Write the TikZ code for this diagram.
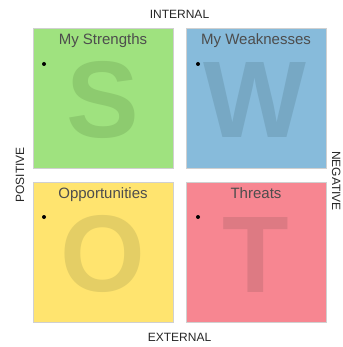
\documentclass[tikz,border=0pt]{standalone}
\usepackage{fontspec}
\setmainfont{Liberation Sans}
\definecolor{sgreen}{HTML}{9FE27F}
\definecolor{sgreenL}{HTML}{8DCB6F}
\definecolor{sblue}{HTML}{87BBDB}
\definecolor{sblueL}{HTML}{77A8C4}
\definecolor{syellow}{HTML}{FFE46F}
\definecolor{syellowL}{HTML}{E4CE65}
\definecolor{sred}{HTML}{F78691}
\definecolor{sredL}{HTML}{DD7A83}
\definecolor{titlec}{HTML}{4D4D4D}
\definecolor{edgec}{HTML}{D0D0D0}
\begin{document}
\begin{tikzpicture}[x=1pt,y=-1pt,
  quad/.style={draw=edgec,line width=0.8pt,minimum width=140pt,minimum height=140pt,inner sep=0pt},
  bigletter/.style={anchor=base,inner sep=0pt,font=\fontsize{109}{109}\selectfont\bfseries},
  qtitle/.style={anchor=base,inner sep=0pt,text=titlec,font=\fontsize{15}{15}\selectfont},
  axis/.style={anchor=base,inner sep=0pt,text=black!85,font=\fontsize{12}{12}\selectfont},
  bul/.style={circle,fill=black,inner sep=0pt,minimum size=4pt}]
\useasboundingbox (0,0) rectangle (342,347);
\node[quad,fill=sgreen] (S) at (103,98.5) {};
\node[quad,fill=sblue] (W) at (256,98.5) {};
\node[quad,fill=syellow] (O) at (103,252) {};
\node[quad,fill=sred] (T) at (256,252) {};
\node[bigletter,text=sgreenL] (Sl) at (102.5,137.5) {S};
\node[bigletter,text=sblueL] (Wl) at (255,137.5) {W};
\node[bigletter,text=syellowL] (Ol) at (102.5,291.5) {O};
\node[bigletter,text=sredL] (Tl) at (256,292) {T};
\node[qtitle] (St) at (103,45) {My Strengths};
\node[qtitle] (Wt) at (256,45) {My Weaknesses};
\node[qtitle] (Ot) at (103,198) {Opportunities};
\node[qtitle] (Tt) at (256,198) {Threats};
\node[bul] (Sb) at (44,64) {};
\node[bul] (Wb) at (198,64) {};
\node[bul] (Ob) at (44,217) {};
\node[bul] (Tb) at (198,217) {};
\node[axis] (int) at (179.5,18.3) {INTERNAL};
\node[axis] (ext) at (179.5,341.5) {EXTERNAL};
\node[axis,rotate=90] (pos) at (24,175) {POSITIVE};
\node[axis,rotate=-90] (neg) at (332,181) {NEGATIVE};
\end{tikzpicture}
\end{document}
